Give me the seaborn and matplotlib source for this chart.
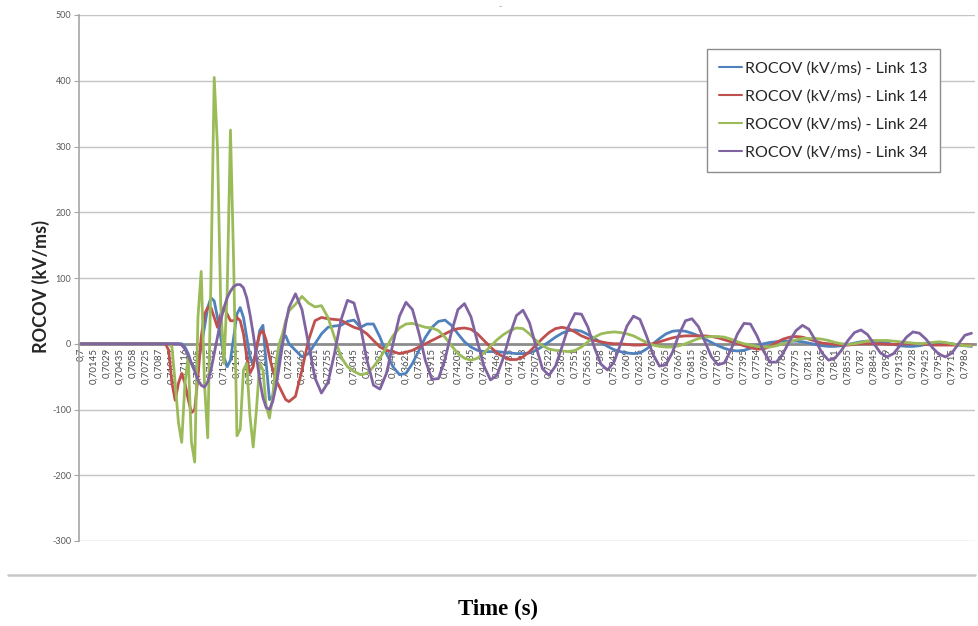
import matplotlib
matplotlib.use("Agg")
import pandas as pd
import matplotlib.pyplot as plt
import seaborn as sns
from matplotlib.lines import Line2D

# =========================
# DATA
# =========================

T0 = 0.7
LABEL_STEP = 0.00145  # time between two category labels (s)

# sample positions, counted in label steps from 0.7 s
sample_k = [0, 6] + [6.25 + 0.25 * i for i in range(40)] + [16.5 + 0.5 * i for i in range(105)]
time_s = [T0 + LABEL_STEP * k for k in sample_k]

link_13 = [
    0, 0,
    0, 0, 0, 0, 0, 0, 0, -5, -15, -30,
    -40, -30, -5, 25, 55, 70, 65, 40, 10, -20,
    -35, -25, 10, 45, 55, 40, 10, -20, -30, -10,
    20, 28, -30, -85, -80, -50, -15, 10, 12, 0,
    -10, -20, -15, 0, 15, 25, 27, 28, 34, 36,
    25, 30, 30, 10, -15, -35, -47, -45, -30, -10,
    10, 25, 34, 36, 28, 15, 3, -5, -10, -12,
    -12, -12, -13, -14, -15, -15, -14, -10, -4, 3,
    10, 16, 20, 21, 19, 14, 8, 2, -4, -9,
    -12, -14, -15, -14, -8, 0, 8, 15, 19, 20,
    19, 16, 12, 7, 2, -3, -7, -10, -11, -10,
    -7, -3, 0, 2, 3, 4, 4, 4, 3, 1,
    -1, -3, -4, -4, -3, -1, 1, 3, 4, 4,
    3, 1, -1, -3, -4, -4, -3, -1, 0, 1,
    1, 0, -2, -3, -4,
]

link_14 = [
    0, 0,
    0, 0, -10, -60, -86, -60, -45, -60, -85, -105,
    -100, -50, 10, 45, 55, 55, 40, 25, 45, 55,
    45, 35, 35, 40, 35, 15, -20, -45, -35, -5,
    15, 20, 5, -20, -40, -55, -65, -75, -85, -88,
    -80, -40, 5, 35, 40, 38, 37, 36, 30, 25,
    22, 15, 5, -5, -10, -12, -15, -13, -10, -5,
    0, 5, 10, 15, 20, 23, 24, 22, 15, 5,
    -5, -14, -20, -24, -24, -20, -12, -2, 8, 17,
    23, 25, 23, 18, 12, 8, 5, 3, 1, 0,
    0, -1, -2, -2, -1, 0, 3, 6, 9, 11,
    12, 12, 12, 12, 11, 9, 6, 3, 0, -3,
    -6, -8, -8, -4, 2, 7, 10, 11, 10, 7,
    4, 1, 0, -1, -2, -2, -1, 0, 0, 0,
    0, -1, -1, -1, 0, 0, 0, -1, -2, -2,
    -2, -2, -2, -2, -2,
]

link_24 = [
    0, 0,
    0, 0, 0, -5, -60, -120, -150, -60, -20, -150,
    -180, 40, 110, -60, -143, 100, 405, 300, 60, -30,
    80, 325, 120, -140, -130, -40, -30, -110, -157, -100,
    -30, -40, -95, -113, -80, -30, 0, 15, 35, 50,
    60, 72, 62, 56, 58, 40, 10, -20, -35, -42,
    -47, -45, -35, -22, -5, 12, 24, 30, 31, 28,
    25, 24, 20, 10, -3, -15, -22, -25, -22, -14,
    -4, 6, 14, 20, 24, 23, 15, 5, -3, -8,
    -10, -11, -12, -10, -5, 3, 10, 15, 17, 18,
    17, 15, 12, 7, 2, -2, -4, -5, -5, -3,
    0, 4, 8, 10, 11, 11, 10, 7, 3, 0,
    -2, -4, -5, -5, -3, 0, 3, 6, 8, 8,
    8, 7, 5, 2, 0, -1, 0, 2, 4, 5,
    5, 5, 4, 3, 2, 1, 0, 1, 2, 3,
    2, 0, -2, -3, -3,
]

link_34 = [
    0, 0,
    0, 0, 0, 0, 0, 0, -2, -8, -18, -30,
    -42, -55, -63, -66, -58, -40, -15, 10, 35, 55,
    70, 80, 87, 90, 90, 85, 70, 45, 15, -20,
    -55, -82, -97, -100, -88, -65, -35, -2, 30, 55,
    76, 52, 0, -52, -75, -59, -15, 36, 66, 62,
    26, -25, -63, -69, -45, 0, 42, 63, 52, 16,
    -26, -54, -53, -24, 18, 52, 61, 41, 3, -34,
    -55, -48, -21, 14, 43, 51, 32, -4, -38, -48,
    -34, -5, 26, 46, 45, 25, -6, -31, -40, -28,
    -1, 27, 42, 37, 12, -16, -34, -32, -13, 14,
    35, 38, 26, 3, -20, -32, -29, -9, 15, 31,
    30, 12, -11, -28, -28, -15, 4, 20, 28, 22,
    5, -14, -25, -22, -10, 5, 17, 21, 14, 0,
    -14, -20, -15, -3, 10, 18, 16, 7, -6, -16,
    -20, -14, 0, 13, 16,
]

series_names = [
    "ROCOV (kV/ms) - Link 13",
    "ROCOV (kV/ms) - Link 14",
    "ROCOV (kV/ms) - Link 24",
    "ROCOV (kV/ms) - Link 34",
]
series_colors = ["#4F81BD", "#C0504D", "#9BBB59", "#8064A2"]

tick_times = [T0 + LABEL_STEP * k for k in range(69)]
tick_labels = [f"{t:.5f}".rstrip("0").replace(".", ",") for t in tick_times]

y_ticks = [-300, -200, -100, 0, 100, 200, 300, 400, 500]

# =========================
# LONG FORMAT TABLE
# =========================

frames = []
for name, values in zip(series_names, [link_13, link_14, link_24, link_34]):
    frames.append(pd.DataFrame({"time": time_s, "rocov": values, "series": name}))
df = pd.concat(frames, ignore_index=True)

# =========================
# PLOT
# =========================

sns.set_style("white")
plt.rcParams["font.family"] = ["Lato", "DejaVu Sans"]

fig = plt.figure(figsize=(9.79, 6.26), dpi=100)
ax = fig.add_axes([79 / 979, 1 - 541 / 626, (975 - 79) / 979, (541 - 15) / 626])

sns.lineplot(
    data=df,
    x="time",
    y="rocov",
    hue="series",
    hue_order=series_names,
    palette=series_colors,
    linewidth=2.0,
    estimator=None,
    sort=False,
    ax=ax,
)

# spines first: moving a spine resets the ticks
for side in ["top", "right"]:
    ax.spines[side].set_visible(False)
ax.spines["left"].set_color("#a6a6a6")
ax.spines["left"].set_linewidth(1.2)
ax.spines["bottom"].set_position(("data", 0))
ax.spines["bottom"].set_color("#8c8c8c")
ax.spines["bottom"].set_linewidth(2.0)
ax.spines["bottom"].set_zorder(1.9)

ax.set_xlim(T0 - LABEL_STEP * 0.15, T0 + LABEL_STEP * 68.77)
ax.set_ylim(-300, 500)

ax.set_yticks(y_ticks)
ax.set_yticklabels([str(v) for v in y_ticks], fontsize=6.5, color="#595959")
ax.yaxis.grid(True, color="#c4c4c4", linewidth=1.0)
ax.xaxis.grid(False)
ax.tick_params(axis="y", length=3.5, width=0.8, color="#a6a6a6", pad=2, left=True)

ax.set_xticks(tick_times)
ax.set_xticklabels(tick_labels, rotation=90, fontsize=7, color="#4a4a4a", va="top", ha="center")
ax.tick_params(axis="x", length=0, pad=3, labelrotation=90)

ax.set_xlabel("")
ax.set_ylabel("")

handles, labels = ax.get_legend_handles_labels()
leg = ax.legend(
    handles,
    labels,
    loc="upper left",
    bbox_to_anchor=(707 / 979, 1 - 49 / 626),
    bbox_transform=fig.transFigure,
    frameon=True,
    fancybox=False,
    edgecolor="#8c8c8c",
    framealpha=1,
    fontsize=11.5,
    handlelength=1.45,
    handletextpad=0.2,
    labelspacing=0.86,
    borderpad=0.75,
    borderaxespad=0,
)
leg.get_frame().set_linewidth(1.0)
for line in leg.get_lines():
    line.set_linewidth(1.5)

fig.text(41 / 979, 1 - 286 / 626, "ROCOV (kV/ms)", rotation=90, ha="center", va="center",
         fontsize=13, fontweight="bold", color="#262626")
fig.text(498 / 979, 1 - 609 / 626, "Time (s)", ha="center", va="center",
         fontsize=16.5, fontweight="bold", family=["Liberation Serif", "DejaVu Serif"], color="black")
fig.text(500 / 979, 1 - 7 / 626, "-", ha="center", va="center", fontsize=6, color="#777777")

fig.add_artist(Line2D([8 / 979, 975 / 979], [1 - 575 / 626, 1 - 575 / 626],
                      color="#c8c8c8", linewidth=1.8, transform=fig.transFigure))

plt.savefig("out.png", dpi=100)
